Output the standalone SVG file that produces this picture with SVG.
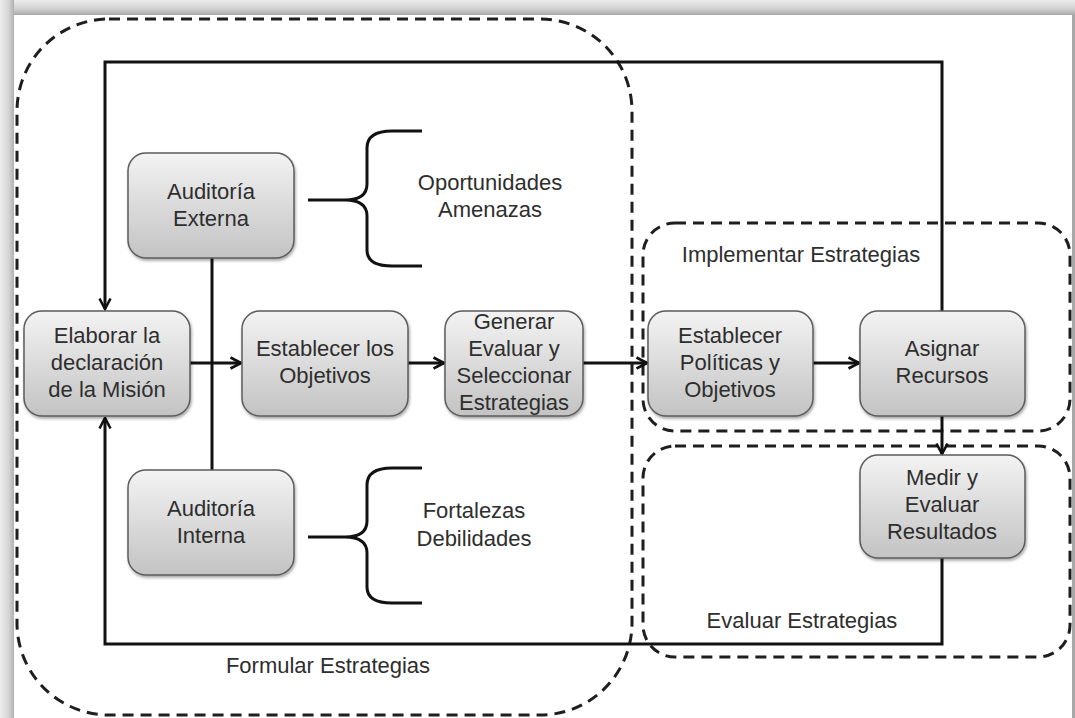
<svg xmlns="http://www.w3.org/2000/svg" width="1075" height="718" viewBox="0 0 1075 718">
  <defs>
    <linearGradient id="boxGrad" x1="0" y1="0" x2="0" y2="1">
      <stop offset="0" stop-color="#f3f3f3"/>
      <stop offset="1" stop-color="#c3c3c3"/>
    </linearGradient>
    <linearGradient id="topBand" x1="0" y1="0" x2="0" y2="1">
      <stop offset="0" stop-color="#ececec"/>
      <stop offset="0.6" stop-color="#d0d0d0"/>
      <stop offset="1" stop-color="#a8a8a8"/>
    </linearGradient>
    <linearGradient id="leftBand" x1="0" y1="0" x2="1" y2="0">
      <stop offset="0" stop-color="#ececec"/>
      <stop offset="0.6" stop-color="#d6d6d6"/>
      <stop offset="1" stop-color="#b0b0b0"/>
    </linearGradient>
    <filter id="shadow" x="-10%" y="-10%" width="125%" height="130%">
      <feDropShadow dx="1" dy="2" stdDeviation="1.5" flood-color="#000" flood-opacity="0.35"/>
    </filter>
    <marker id="arrow" viewBox="0 0 14 14" refX="12.5" refY="7" markerWidth="14" markerHeight="14" markerUnits="userSpaceOnUse" orient="auto">
      <path d="M2,1.5 L12.5,7 L2,12.5" fill="none" stroke="#111" stroke-width="2.6"/>
    </marker>
    <style>
      .node rect { fill: url(#boxGrad); stroke: #5c5c5c; stroke-width: 1.5; filter: url(#shadow); }
      text { font-family: "Liberation Sans", Arial, sans-serif; font-size: 22px; fill: #2e2e2e; text-anchor: middle; }
      .line { fill: none; stroke: #111; stroke-width: 3; }
      .arr { fill: none; stroke: #111; stroke-width: 3; marker-end: url(#arrow); }
      .group { fill: none; stroke: #1e1e1e; stroke-width: 3; stroke-dasharray: 11 7; }
      .brace { fill: none; stroke: #111; stroke-width: 3; }
    </style>
  </defs>

  <!-- frame -->
  <rect x="0" y="0" width="1075" height="718" fill="#dcdcdc"/>
  <rect x="0" y="0" width="1075" height="15" fill="url(#topBand)"/>
  <rect x="0" y="0" width="14" height="718" fill="url(#leftBand)"/>
  <rect x="14" y="15" width="1058" height="703" fill="#ffffff"/>
  <rect x="1072" y="15" width="3" height="703" fill="#a8a8a8"/>

  <!-- group outlines -->
  <g id="groups">
    <rect class="group" x="17" y="19" width="615" height="696" rx="92" ry="92"/>
    <rect class="group" x="643" y="223" width="427" height="208" rx="32" ry="32"/>
    <rect class="group" x="643" y="446" width="427" height="211" rx="32" ry="32"/>
  </g>

  <!-- connectors -->
  <g id="connectors">
    <path class="arr" d="M942,311 L942,62 L105,62 L105,309"/>
    <path class="arr" d="M942,558 L942,644 L105,644 L105,418"/>
    <path class="line" d="M212,258 L212,470"/>
    <path class="arr" d="M190,363 L241,363"/>
    <path class="arr" d="M408,363 L444,363"/>
    <path class="arr" d="M583,363 L647,363"/>
    <path class="arr" d="M813,363 L859,363"/>
    <path class="arr" d="M942,416 L942,454"/>
    <path class="brace" d="M308,200 L345,200 Q367,200 367,184 L367,148 Q367,131 392,131 L422,131 M345,200 Q367,200 367,216 L367,250 Q367,266 392,266 L422,266"/>
    <path class="brace" d="M308,537 L345,537 Q367,537 367,521 L367,485 Q367,468 392,468 L422,468 M345,537 Q367,537 367,553 L367,587 Q367,603 392,603 L422,603"/>
  </g>

  <!-- nodes -->
  <g id="elaborar" class="node">
    <rect x="24" y="311" width="166" height="105" rx="18"/>
    <text x="107" y="343">Elaborar la</text>
    <text x="107" y="370">declaración</text>
    <text x="107" y="397">de la Misión</text>
  </g>
  <g id="objetivos" class="node">
    <rect x="242" y="311" width="166" height="105" rx="18"/>
    <text x="325" y="356">Establecer los</text>
    <text x="325" y="383">Objetivos</text>
  </g>
  <g id="generar" class="node">
    <rect x="445" y="311" width="138" height="105" rx="18"/>
    <text x="514" y="329">Generar</text>
    <text x="514" y="356">Evaluar y</text>
    <text x="514" y="383">Seleccionar</text>
    <text x="514" y="410">Estrategias</text>
  </g>
  <g id="politicas" class="node">
    <rect x="648" y="311" width="165" height="105" rx="18"/>
    <text x="730" y="343">Establecer</text>
    <text x="730" y="370">Políticas y</text>
    <text x="730" y="397">Objetivos</text>
  </g>
  <g id="asignar" class="node">
    <rect x="860" y="311" width="165" height="105" rx="18"/>
    <text x="942" y="356">Asignar</text>
    <text x="942" y="383">Recursos</text>
  </g>
  <g id="medir" class="node">
    <rect x="860" y="455" width="165" height="103" rx="18"/>
    <text x="942" y="485">Medir y</text>
    <text x="942" y="512">Evaluar</text>
    <text x="942" y="539">Resultados</text>
  </g>
  <g id="externa" class="node">
    <rect x="128" y="153" width="166" height="105" rx="18"/>
    <text x="211" y="199">Auditoría</text>
    <text x="211" y="226">Externa</text>
  </g>
  <g id="interna" class="node">
    <rect x="128" y="470" width="166" height="105" rx="18"/>
    <text x="211" y="516">Auditoría</text>
    <text x="211" y="543">Interna</text>
  </g>

  <!-- labels -->
  <g id="labels">
    <text x="490" y="190">Oportunidades</text>
    <text x="490" y="217">Amenazas</text>
    <text x="474" y="518">Fortalezas</text>
    <text x="474" y="546">Debilidades</text>
    <text x="801" y="262">Implementar Estrategias</text>
    <text x="802" y="628">Evaluar Estrategias</text>
    <text x="328" y="673">Formular Estrategias</text>
  </g>
</svg>
